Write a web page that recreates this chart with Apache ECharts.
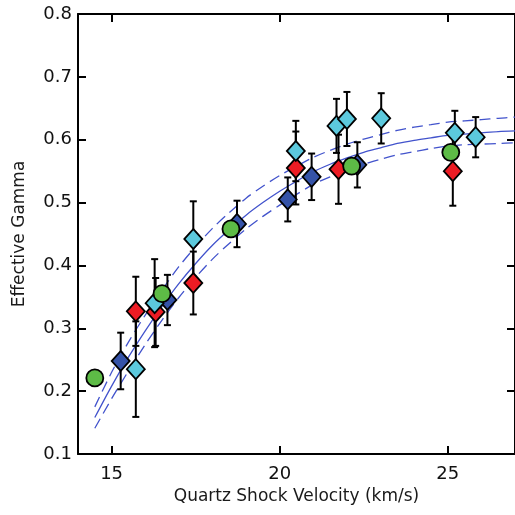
<!DOCTYPE html>
<html>
<head>
<meta charset="utf-8">
<script src="https://cdn.jsdelivr.net/npm/echarts@6/dist/echarts.min.js"></script>
<style>html,body{margin:0;padding:0;background:#fff}#c{width:515px;height:515px}</style>
</head>
<body>
<div id="c"></div>
<script>
// ---- data ----
var xTicks = [15, 20, 25];
var yTicks = [0.1, 0.2, 0.3, 0.4, 0.5, 0.6, 0.7, 0.8];

var blueX = [15.27, 16.66, 18.73, 20.24, 20.95, 22.31];
var blueY = [0.248, 0.345, 0.466, 0.505, 0.541, 0.560];
var blueErr = [0.045, 0.040, 0.037, 0.035, 0.037, 0.036];

var redX = [15.72, 16.31, 17.43, 20.48, 21.75, 25.15];
var redY = [0.327, 0.326, 0.372, 0.555, 0.553, 0.550];
var redErr = [0.055, 0.054, 0.050, 0.058, 0.055, 0.055];

var cyanX = [15.72, 16.28, 17.43, 20.48, 21.69, 22.00, 23.02, 25.21, 25.83];
var cyanY = [0.235, 0.340, 0.442, 0.582, 0.622, 0.633, 0.634, 0.611, 0.604];
var cyanErr = [0.076, 0.070, 0.060, 0.048, 0.043, 0.043, 0.040, 0.035, 0.032];

var greenX = [14.50, 16.50, 18.55, 22.14, 25.09];
var greenY = [0.221, 0.355, 0.458, 0.558, 0.580];

var fitX = [14.5, 15, 15.5, 16, 16.5, 17, 17.5, 18, 18.5, 19, 19.5, 20, 20.5, 21, 21.5, 22, 22.5, 23, 23.5, 24, 24.5, 25, 25.5, 26, 26.5, 27];
var fitY = [0.158, 0.208, 0.254, 0.296, 0.335, 0.371, 0.403, 0.432, 0.457, 0.480, 0.500, 0.518, 0.534, 0.549, 0.561, 0.571, 0.580, 0.587, 0.594, 0.599, 0.603, 0.607, 0.609, 0.611, 0.613, 0.614];
var fitUpper = [0.175, 0.230, 0.278, 0.321, 0.361, 0.398, 0.430, 0.459, 0.484, 0.507, 0.526, 0.543, 0.558, 0.572, 0.583, 0.593, 0.601, 0.608, 0.615, 0.620, 0.624, 0.628, 0.630, 0.632, 0.634, 0.636];
var fitLower = [0.141, 0.188, 0.232, 0.274, 0.313, 0.349, 0.381, 0.410, 0.435, 0.458, 0.478, 0.496, 0.513, 0.529, 0.541, 0.552, 0.561, 0.569, 0.576, 0.581, 0.586, 0.590, 0.592, 0.593, 0.594, 0.595];

function zip(xs, ys) { return xs.map(function (x, i) { return [x, ys[i]]; }); }
function errRows(xs, ys, es) { return xs.map(function (x, i) { return [x, ys[i] - es[i], ys[i] + es[i]]; }); }

var FONT = 'DejaVu Sans';
var chart = echarts.init(document.getElementById('c'), null, { renderer: 'canvas' });

function errorSeries(rows) {
  return {
    type: 'custom',
    xAxisIndex: 0, yAxisIndex: 0,
    z: 2,
    silent: true,
    renderItem: function (params, api) {
      var x = api.value(0);
      var lo = api.coord([x, api.value(1)]);
      var hi = api.coord([x, api.value(2)]);
      var cw = 3.5;
      var st = { stroke: '#000', lineWidth: 2 };
      return {
        type: 'group',
        children: [
          { type: 'line', shape: { x1: lo[0], y1: lo[1], x2: hi[0], y2: hi[1] }, style: st },
          { type: 'line', shape: { x1: lo[0] - cw, y1: lo[1], x2: lo[0] + cw, y2: lo[1] }, style: st },
          { type: 'line', shape: { x1: hi[0] - cw, y1: hi[1], x2: hi[0] + cw, y2: hi[1] }, style: st }
        ]
      };
    },
    encode: { x: 0, y: [1, 2] },
    data: rows
  };
}

function markerSeries(pts, color, symbol, size, z) {
  return {
    type: 'scatter',
    xAxisIndex: 0, yAxisIndex: 0,
    symbol: symbol,
    symbolSize: size,
    z: z,
    itemStyle: { color: color, borderColor: '#000', borderWidth: 1.8, opacity: 1 },
    emphasis: { disabled: true },
    data: pts
  };
}

function lineSeries(ys, dashed) {
  return {
    type: 'line',
    xAxisIndex: 0, yAxisIndex: 0,
    data: zip(fitX, ys),
    showSymbol: false,
    smooth: 0.3,
    z: 1,
    silent: true,
    lineStyle: { color: '#4253cc', width: 1.3, type: dashed ? [11, 6] : 'solid' }
  };
}

var axisLine = { show: true, onZero: false, lineStyle: { color: '#000', width: 2 } };

var option = {
  animation: false,
  backgroundColor: '#fff',
  grid: { left: 78, top: 14, width: 440, height: 440, containLabel: false },
  xAxis: [
    {
      type: 'value', position: 'bottom', min: 14, max: 27,
      name: 'Quartz Shock Velocity (km/s)', nameLocation: 'middle', nameGap: 33,
      nameTextStyle: { fontFamily: FONT, fontSize: 17, color: '#1a1a1a' },
      axisLine: axisLine,
      axisTick: { show: true, inside: true, length: 8, lineStyle: { color: '#000', width: 2 }, customValues: xTicks },
      axisLabel: { show: true, fontFamily: FONT, fontSize: 18, color: '#111', margin: 11, customValues: xTicks },
      splitLine: { show: false }
    },
    {
      type: 'value', position: 'top', min: 14, max: 27,
      axisLine: axisLine,
      axisTick: { show: true, inside: true, length: 8, lineStyle: { color: '#000', width: 2 }, customValues: xTicks },
      axisLabel: { show: false },
      splitLine: { show: false }
    }
  ],
  yAxis: [
    {
      type: 'value', position: 'left', min: 0.1, max: 0.8, interval: 0.1,
      name: 'Effective Gamma', nameLocation: 'middle', nameGap: 50, nameRotate: 90,
      nameTextStyle: { fontFamily: FONT, fontSize: 17, color: '#1a1a1a' },
      axisLine: axisLine,
      axisTick: { show: true, inside: true, length: 8, lineStyle: { color: '#000', width: 2 }, customValues: yTicks },
      axisLabel: { show: true, fontFamily: FONT, fontSize: 18, color: '#111', margin: 6, customValues: yTicks,
        formatter: function (v) { return (+v).toFixed(1); } },
      splitLine: { show: false }
    },
    {
      type: 'value', position: 'right', min: 0.1, max: 0.8, interval: 0.1,
      axisLine: axisLine,
      axisTick: { show: true, inside: true, length: 8, lineStyle: { color: '#000', width: 2 }, customValues: yTicks },
      axisLabel: { show: false },
      splitLine: { show: false }
    }
  ],
  series: [
    lineSeries(fitY, false),
    lineSeries(fitUpper, true),
    lineSeries(fitLower, true),
    errorSeries(errRows(blueX, blueY, blueErr)),
    errorSeries(errRows(redX, redY, redErr)),
    errorSeries(errRows(cyanX, cyanY, cyanErr)),
    markerSeries(zip(blueX, blueY), '#3553a8', 'diamond', [18, 20], 3),
    markerSeries(zip(redX, redY), '#ec1c24', 'diamond', [18, 20], 4),
    markerSeries(zip(cyanX, cyanY), '#5cc9dd', 'diamond', [18, 20], 5),
    markerSeries(zip(greenX, greenY), '#5dbb46', 'circle', 17, 6)
  ]
};
chart.setOption(option);
</script>
</body>
</html>
